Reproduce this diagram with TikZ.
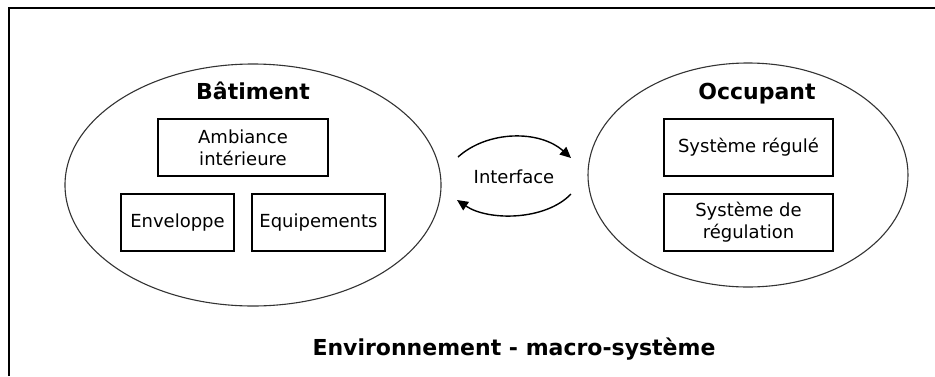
\documentclass[tikz,border=0pt]{standalone}
\usepackage{fontspec}
\setmainfont{DejaVu Sans}
\usetikzlibrary{shapes.geometric,arrows.meta}
\tikzset{
  frame/.style={draw=black, line width=2.2pt},
  zone/.style={draw=black!80, line width=1.1pt, ellipse, inner sep=0pt},
  box/.style={draw=black, line width=1.8pt, rectangle, align=center, inner sep=0pt,
    minimum height=57pt, font=\fontsize{18}{22}\selectfont},
  title/.style={font=\bfseries\fontsize{22}{26}\selectfont, anchor=base},
  lab/.style={font=\fontsize{18}{22}\selectfont, anchor=base},
  flow/.style={draw=black, line width=1.4pt, -{Triangle[length=11pt,width=10pt]}},
}

\begin{document}
\begin{tikzpicture}[x=1pt,y=-1pt]
  \useasboundingbox (0,0) rectangle (935,376);
  \draw[frame] (9,376) -- (9,8) -- (935,8);

  % the two sub-systems
  \node[zone, minimum width=376pt, minimum height=242pt] (bat) at (253,185) {};
  \node[zone, minimum width=320pt, minimum height=224pt] (occ) at (748,175) {};
  \node[title] (batlab) at (253,99) {Bâtiment};
  \node[title] (occlab) at (757,99) {Occupant};

  \node[box, minimum width=170pt] (amb) at (243,147.5) {Ambiance\\intérieure};
  \node[box, minimum width=113pt] (env) at (177.5,222.5) {Enveloppe};
  \node[box, minimum width=133pt] (equ) at (318.5,222.5) {Equipements};

  \node[box, minimum width=169pt] (reg) at (748.5,147.5) {Système régulé};
  \node[box, minimum width=169pt] (sys) at (748.5,222.5) {Système de\\régulation};

  % exchange between both
  \node[lab] (itf) at (514,183) {Interface};
  \coordinate (up0) at (458,157);
  \coordinate (up1) at (571,158);
  \coordinate (lo0) at (571,194);
  \coordinate (lo1) at (457,200);
  \draw[flow] (up0) .. controls (488,130) and (540,130) .. (up1);
  \draw[flow] (lo0) .. controls (545,221) and (488,221) .. (lo1);

  \node[title] (macro) at (514,355) {Environnement - macro-système};
\end{tikzpicture}
\end{document}
